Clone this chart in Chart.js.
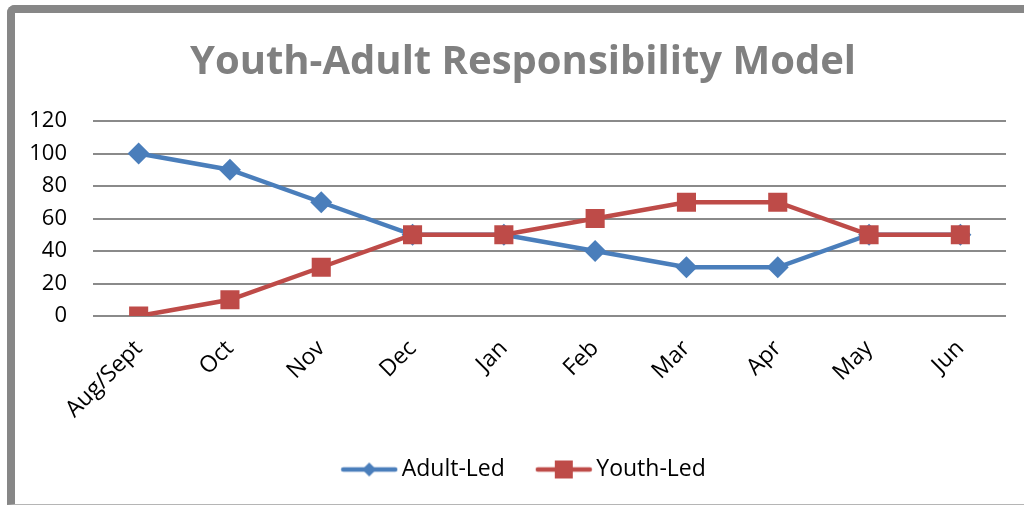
<!DOCTYPE html>
<html>
<head>
<meta charset="utf-8">
<script src="https://cdn.jsdelivr.net/npm/chart.js@4.4.1/dist/chart.umd.min.js"></script>
<style>
  body { margin: 0; background: #fff; }
  #wrap { position: relative; width: 1024px; height: 506px; overflow: hidden; }
  #frame {
    position: absolute; left: 7px; top: 5px; width: 1100px; height: 491px;
    border-left: 8px solid #878787; border-top: 8px solid #878787;
    border-bottom: 1px solid #b5b5b5; border-top-left-radius: 8px;
  }
  canvas { position: absolute; left: 0; top: 0; }
</style>
</head>
<body>
<div id="wrap">
  <div id="frame"></div>
  <canvas id="chart" width="1024" height="506"></canvas>
</div>
<script>
// data
const months = ['Aug/Sept', 'Oct', 'Nov', 'Dec', 'Jan', 'Feb', 'Mar', 'Apr', 'May', 'Jun'];
const adultLed = [100, 90, 70, 50, 50, 40, 30, 30, 50, 50];
const youthLed = [0, 10, 30, 50, 50, 60, 70, 70, 50, 50];
const yTicks = [0, 20, 40, 60, 80, 100, 120];
const chartTitle = 'Youth-Adult Responsibility Model';

const colors = {
    blue: '#4a7ebb',
    red: '#be4b48',
    grid: '#8a8a8a',
    title: '#808080'
};

const font = "'Open Sans', sans-serif";

// legend swatch: line with marker, like the spreadsheet legend
function swatch(color, shape) {
    const c = document.createElement('canvas');
    c.width = 58; c.height = 22;
    const g = c.getContext('2d');
    g.strokeStyle = color;
    g.lineWidth = 4.5;
    g.lineCap = 'round';
    g.beginPath(); g.moveTo(3, 11); g.lineTo(55, 11); g.stroke();
    g.fillStyle = color;
    g.beginPath();
    if (shape === 'diamond') {
        g.moveTo(29, 4); g.lineTo(36, 11); g.lineTo(29, 18); g.lineTo(22, 11);
    } else {
        g.rect(20, 2, 18, 18);
    }
    g.closePath(); g.fill();
    return c;
}

// title and legend sit a bit right of the canvas centre in the original
const sheetLayout = {
    id: 'sheetLayout',
    afterLayout(chart) {
        chart.legend.left += 24;
        chart.legend.right += 24;
    },
    afterDraw(chart) {
        const c = chart.ctx;
        c.save();
        c.font = `bold 40px ${font}`;
        c.fillStyle = colors.title;
        c.textAlign = 'center';
        c.textBaseline = 'alphabetic';
        c.fillText(chartTitle, 523, 74);
        c.restore();
    }
};

const ctx = document.getElementById('chart').getContext('2d');

new Chart(ctx, {
    type: 'line',
    data: {
        labels: months,
        datasets: [{
            label: 'Youth-Led',
            data: youthLed,
            borderColor: colors.red,
            backgroundColor: colors.red,
            borderWidth: 4.5,
            pointStyle: 'rect',
            pointRadius: 13.5,
            pointBorderWidth: 0,
            pointHoverRadius: 13.5,
            tension: 0
        }, {
            label: 'Adult-Led',
            data: adultLed,
            borderColor: colors.blue,
            backgroundColor: colors.blue,
            borderWidth: 4.5,
            pointStyle: 'rectRot',
            pointRadius: 11,
            pointBorderWidth: 0,
            pointHoverRadius: 11,
            tension: 0
        }]
    },
    plugins: [sheetLayout],
    options: {
        responsive: false,
        animation: false,
        layout: { padding: { left: 0, right: 18, top: 121, bottom: 15 } },
        scales: {
            x: {
                offset: true,
                grid: { display: false },
                border: { display: false },
                ticks: {
                    color: '#000',
                    font: { family: font, size: 23 },
                    maxRotation: 45,
                    minRotation: 45,
                    padding: 11
                },
                afterFit: (scale) => { scale.height = 104; }
            },
            y: {
                min: 0,
                max: 120,
                afterBuildTicks: (scale) => { scale.ticks = yTicks.map(v => ({ value: v })); },
                grid: { color: colors.grid, lineWidth: 2, drawTicks: false },
                border: { display: false },
                ticks: {
                    color: '#000',
                    font: { family: font, size: 22 },
                    padding: 26
                },
                afterFit: (scale) => { scale.width = 93; }
            }
        },
        plugins: {
            title: { display: false },
            legend: {
                position: 'bottom',
                labels: {
                    usePointStyle: true,
                    pointStyleWidth: 42,
                    padding: 38,
                    color: '#000',
                    font: { family: font, size: 23 },
                    generateLabels: () => [
                        { text: 'Adult-Led', pointStyle: swatch(colors.blue, 'diamond'), fillStyle: colors.blue, strokeStyle: colors.blue, lineWidth: 0, fontColor: '#000', hidden: false, datasetIndex: 1 },
                        { text: 'Youth-Led', pointStyle: swatch(colors.red, 'square'), fillStyle: colors.red, strokeStyle: colors.red, lineWidth: 0, fontColor: '#000', hidden: false, datasetIndex: 0 }
                    ]
                }
            },
            tooltip: { enabled: false }
        }
    }
});
</script>
</body>
</html>
